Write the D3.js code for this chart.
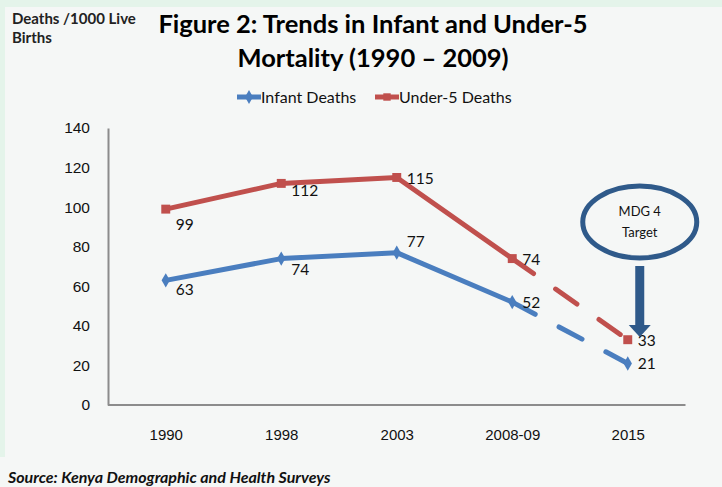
<!DOCTYPE html>
<html>
<head>
<meta charset="utf-8">
<script src="https://cdn.jsdelivr.net/npm/d3@7"></script>
<style>
  body { margin: 0; background: #f5f7f6; }
  svg { display: block; font-family: Lato, "Open Sans", sans-serif; }
</style>
</head>
<body>
<svg id="chart" width="722" height="487"></svg>
<script>
// chart data
const years = ["1990", "1998", "2003", "2008-09", "2015"];
const infantDeaths = [63, 74, 77, 52, 21];
const under5Deaths = [99, 112, 115, 74, 33];
const yTicks = [0, 20, 40, 60, 80, 100, 120, 140];

// label nudges (layout only)
const infantLabelDy = [9, 10, -12, 0, 0];
const under5LabelDy = [15, 7, 1, 0, 0];

const blue = "#4a7ebf", red = "#c0504d", navy = "#2f5a8a";

const svg = d3.select("#chart");

// backdrop: green frame strips + panel
svg.append("rect").attr("width", 722).attr("height", 457).attr("fill", "#e4f4ea");
svg.append("rect").attr("x", 5).attr("y", 7).attr("width", 717).attr("height", 480).attr("fill", "#f5f7f6");
svg.append("rect").attr("x", 0).attr("y", 457).attr("width", 722).attr("height", 30).attr("fill", "#f5f7f6");

const x = d3.scalePoint().domain(years).range([108, 685.5]).padding(0.5);
const y = d3.scaleLinear().domain([0, 140]).range([405, 128]);

// axes
const yAxis = svg.append("g")
    .attr("transform", "translate(108,0)")
    .call(d3.axisLeft(y).tickValues(yTicks).tickSize(0).tickPadding(18));
yAxis.select(".domain").attr("stroke", "#8c8c8c").attr("stroke-width", 2);
yAxis.selectAll("text").attr("font-size", 15.5).attr("fill", "#111");

const xAxis = svg.append("g")
    .attr("transform", "translate(0,405)")
    .call(d3.axisBottom(x).tickSize(0).tickPadding(24));
xAxis.select(".domain").attr("d", "M108,0H685.5").attr("stroke", "#8c8c8c").attr("stroke-width", 2);
xAxis.selectAll("text").attr("font-size", 15).attr("fill", "#111");

// titles
svg.append("text").attr("x", 12).attr("y", 24).attr("font-size", 15).attr("font-weight", 700)
    .attr("fill", "#222").text("Deaths /1000 Live");
svg.append("text").attr("x", 12).attr("y", 43).attr("font-size", 15).attr("font-weight", 700)
    .attr("fill", "#222").text("Births");

svg.append("text").attr("x", 373).attr("y", 33).attr("text-anchor", "middle")
    .attr("font-size", 25.5).attr("font-weight", 700).attr("fill", "#000")
    .text("Figure 2: Trends in Infant and Under-5");
svg.append("text").attr("x", 373).attr("y", 67).attr("text-anchor", "middle")
    .attr("font-size", 25.5).attr("font-weight", 700).attr("fill", "#000")
    .text("Mortality (1990 – 2009)");

svg.append("text").attr("x", 8).attr("y", 483).attr("font-size", 16).attr("font-weight", 700)
    .attr("font-style", "italic").attr("fill", "#111")
    .text("Source: Kenya Demographic and Health Surveys");

// legend
const legendItems = [
    {name: "Infant Deaths", color: blue, shape: d3.symbolDiamond, x: 237},
    {name: "Under-5 Deaths", color: red, shape: d3.symbolSquare, x: 375}
];
const legend = svg.append("g").attr("transform", "translate(0,97)");
legendItems.forEach(d => {
    legend.append("line").attr("x1", d.x).attr("x2", d.x + 24)
        .attr("stroke", d.color).attr("stroke-width", 5);
    legend.append("path").attr("d", d3.symbol(d.shape, 55)())
        .attr("transform", `translate(${d.x + 12},0)`).attr("fill", d.color);
    legend.append("text").attr("x", d.x + 24).attr("y", 5.5).attr("font-size", 16)
        .attr("fill", "#111").text(d.name);
});

// series
const series = [
    {values: infantDeaths, color: blue, shape: d3.symbolDiamond, size: 60, dy: infantLabelDy},
    {values: under5Deaths, color: red, shape: d3.symbolSquare, size: 80, dy: under5LabelDy}
];
const line = d3.line().x(d => x(d.year)).y(d => y(d.v));

series.forEach(s => {
    const pts = years.map((yr, i) => ({year: yr, v: s.values[i], dy: s.dy[i]}));
    const g = svg.append("g");
    g.append("path").datum(pts.slice(0, 4)).attr("d", line)
        .attr("fill", "none").attr("stroke", s.color).attr("stroke-width", 5)
        .attr("stroke-linejoin", "round");
    g.append("path").datum(pts.slice(3)).attr("d", line)
        .attr("fill", "none").attr("stroke", s.color).attr("stroke-width", 5)
        .attr("stroke-linecap", "round").attr("stroke-dasharray", "26,27");
    g.selectAll(".marker").data(pts).join("path")
        .attr("d", d3.symbol(s.shape, s.size)())
        .attr("transform", d => `translate(${x(d.year)},${y(d.v)})`)
        .attr("fill", s.color);
    g.selectAll(".lbl").data(pts).join("text")
        .attr("x", d => x(d.year) + 10)
        .attr("y", d => y(d.v) + d.dy + 6)
        .attr("font-size", 15.5).attr("fill", "#111")
        .text(d => d.v);
});

// MDG 4 target callout
const cx = x("2015") + 12;
const callout = svg.append("g");
callout.append("ellipse").attr("cx", cx).attr("cy", 222).attr("rx", 57).attr("ry", 36)
    .attr("fill", "none").attr("stroke", navy).attr("stroke-width", 5);
callout.append("text").attr("x", cx).attr("y", 216).attr("text-anchor", "middle")
    .attr("font-size", 13).attr("fill", "#111").text("MDG 4");
callout.append("text").attr("x", cx).attr("y", 237).attr("text-anchor", "middle")
    .attr("font-size", 13).attr("fill", "#111").text("Target");
callout.append("rect").attr("x", cx - 4.5).attr("y", 266).attr("width", 9).attr("height", 62)
    .attr("fill", navy);
callout.append("path")
    .attr("d", `M${cx - 11},325L${cx + 11},325L${cx},337Z`).attr("fill", navy);
</script>
</body>
</html>
